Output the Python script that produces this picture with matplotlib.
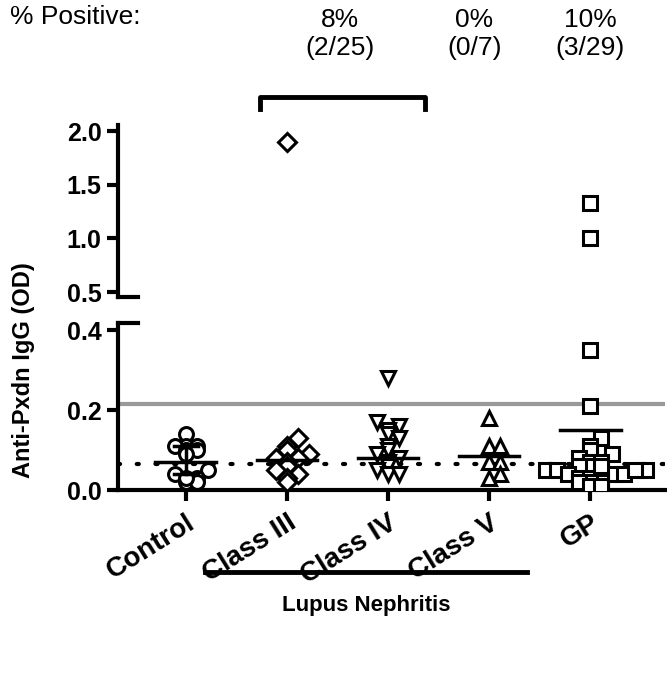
import matplotlib
matplotlib.use("Agg")
import matplotlib.pyplot as plt
import numpy as np

plt.rcParams['font.family'] = ['Liberation Sans', 'DejaVu Sans']

groups = ["Control", "Class III", "Class IV", "Class V", "GP"]
markers = ["o", "D", "v", "^", "s"]
control = [0.14, 0.11, 0.11, 0.11, 0.10, 0.10, 0.09, 0.05, 0.04, 0.03, 0.02, 0.02, 0.03]
class3 = [1.90, 0.13, 0.11, 0.10, 0.09, 0.08, 0.08, 0.07, 0.06, 0.05, 0.04, 0.03, 0.02]
class4 = [0.28, 0.17, 0.16, 0.15, 0.14, 0.13, 0.11, 0.10, 0.09, 0.08, 0.07, 0.06, 0.05, 0.04, 0.04]
class5 = [0.18, 0.11, 0.11, 0.07, 0.07, 0.04, 0.03]
gp = [1.33, 1.00, 0.35, 0.21, 0.13, 0.11, 0.10, 0.09, 0.08, 0.07, 0.07, 0.06, 0.06, 0.05,
      0.05, 0.05, 0.04, 0.04, 0.04, 0.03, 0.03, 0.03, 0.02, 0.02, 0.02, 0.01, 0.01, 0.06, 0.05]
data = [control, class3, class4, class5, gp]
means = [0.07, 0.075, 0.08, 0.085, 0.15]
sd_lo = [0.04, None, None, None, None]
sd_hi = [0.11, None, None, None, None]
cutoff_sd = 0.215
cutoff_dot = 0.065

fig = plt.figure(figsize=(6.67, 6.8), dpi=100)
axt = fig.add_axes([0.177, 0.563, 0.82, 0.253])
axb = fig.add_axes([0.177, 0.279, 0.82, 0.246])

def spread(vals):
    # spread points that share similar values sideways
    off = np.zeros(len(vals))
    order = np.argsort(vals)
    bins = {}
    for i in order:
        k = round(vals[i] / 0.02)
        n = bins.get(k, 0)
        bins[k] = n + 1
        off[i] = ((n + 1) // 2) * 0.11 * (1 if n % 2 else -1)
    return off

for ax in (axt, axb):
    for i, (vals, m) in enumerate(zip(data, markers)):
        v = np.array(vals)
        x = i + spread(vals)
        ax.plot(x, v, ls="none", marker=m, ms=10 if m != "D" else 9, mfc="white",
                mec="black", mew=2.2, zorder=3)
        ax.plot([i - 0.3, i + 0.3], [means[i]] * 2, color="black", lw=2.5, zorder=4)
        if sd_lo[i] is not None:
            ax.plot([i, i], [sd_lo[i], sd_hi[i]], color="black", lw=2.5, zorder=4)
            ax.plot([i - 0.12, i + 0.12], [sd_lo[i]] * 2, color="black", lw=2.5, zorder=4)
            ax.plot([i - 0.12, i + 0.12], [sd_hi[i]] * 2, color="black", lw=2.5, zorder=4)
    ax.axhline(cutoff_sd, color="#999999", lw=3, zorder=1)
    ax.axhline(cutoff_dot, color="black", lw=3, ls=(0, (0.5, 4)), dash_capstyle="round", zorder=1)
    ax.set_xlim(-0.67, 4.74)
    for s in ("top", "right"):
        ax.spines[s].set_visible(False)
    ax.spines["left"].set_linewidth(3)
    ax.tick_params(axis="y", width=3, length=8, labelsize=18, pad=4)

axt.set_ylim(0.453, 2.056)
axt.set_yticks([0.5, 1.0, 1.5, 2.0])
axt.set_yticklabels(["0.5", "1.0", "1.5", "2.0"], fontweight="bold")
axt.spines["bottom"].set_visible(False)
axt.set_xticks([])

axb.set_ylim(0, 0.4175)
axb.set_yticks([0.0, 0.2, 0.4])
axb.set_yticklabels(["0.0", "0.2", "0.4"], fontweight="bold")
axb.spines["bottom"].set_linewidth(3)
axb.set_xticks(range(5))
axb.set_xticklabels(groups, rotation=32, ha="right", rotation_mode="anchor",
                    fontsize=20, fontweight="bold")
axb.tick_params(axis="x", width=3, length=8, pad=6)

# break marks
for y in (0.563, 0.525):
    fig.add_artist(plt.Line2D([0.177, 0.177 + 0.03], [y, y], color="black", lw=3))

fig.text(0.035, 0.455, "Anti-Pxdn IgG (OD)", rotation=90, ha="center", va="center",
         fontsize=17, fontweight="bold")

fig.text(0.015, 0.975, "% Positive:", fontsize=19, va="center")
for x, t in [(0.51, "8%\n(2/25)"), (0.711, "0%\n(0/7)"), (0.885, "10%\n(3/29)")]:
    fig.text(x, 0.95, t, fontsize=19, ha="center", va="center", linespacing=1.2)
fig.add_artist(plt.Line2D([0.39, 0.39, 0.637, 0.637], [0.84, 0.857, 0.857, 0.84],
                          color="black", lw=3.5))
fig.add_artist(plt.Line2D([0.307, 0.79], [0.159, 0.159], color="black", lw=3.5))
fig.text(0.549, 0.11, "Lupus Nephritis", fontsize=16, fontweight="bold", ha="center", va="center")

plt.savefig("out.png", dpi=100)
